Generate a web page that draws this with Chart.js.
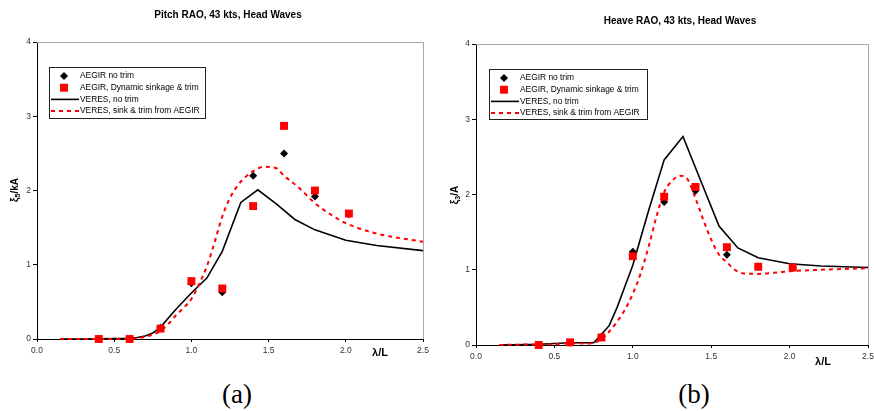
<!DOCTYPE html>
<html>
<head>
<meta charset="utf-8">
<script src="https://cdn.jsdelivr.net/npm/chart.js@4.4.1/dist/chart.umd.min.js"></script>
<style>
  body { margin: 0; background: #fff; width: 874px; height: 411px; position: relative; overflow: hidden; }
  canvas { position: absolute; top: 0; }
  #pitch { left: 0; }
  #heave { left: 440px; }
  .cap { position: absolute; font-family: "Liberation Serif", "Times New Roman", serif; font-size: 27px; line-height: 30px; color: #000; transform: translateX(-50%); }
</style>
</head>
<body>
<canvas id="pitch" width="440" height="370"></canvas>
<canvas id="heave" width="444" height="370"></canvas>
<div class="cap" style="left:237px; top:379px">(a)</div>
<div class="cap" style="left:694px; top:379px">(b)</div>

<script>
// series names (same four in both plots)
const seriesNames = ["AEGIR no trim", "AEGIR, Dynamic sinkage & trim", "VERES, no trim", "VERES, sink & trim from AEGIR"];
const xTicks = [0, 0.5, 1.0, 1.5, 2.0, 2.5];
const yTicks = [0, 1, 2, 3, 4];

// pitch RAO
const pitchAegirX = [0.4, 0.6, 0.8, 1.0, 1.2, 1.4, 1.6, 1.8, 2.02];
const pitchAegirNoTrim = [0, 0, 0.15, 0.75, 0.63, 2.2, 2.5, 1.92, 1.68];
const pitchAegirSinkTrim = [0, 0, 0.14, 0.78, 0.68, 1.79, 2.87, 2.0, 1.69];
const pitchVeresNoTrimX = [0.15, 0.3, 0.5, 0.6, 0.65, 0.7, 0.75, 0.8, 0.9, 1.0, 1.1, 1.2, 1.32, 1.43, 1.55, 1.67, 1.8, 2.0, 2.2, 2.5];
const pitchVeresNoTrim = [0, 0, 0.005, 0.01, 0.02, 0.04, 0.08, 0.16, 0.4, 0.62, 0.82, 1.18, 1.84, 2.01, 1.82, 1.61, 1.47, 1.33, 1.26, 1.19];
const pitchVeresSinkTrimX = [0.15, 0.4, 0.6, 0.65, 0.7, 0.75, 0.8, 0.85, 0.9, 0.95, 1.0, 1.05, 1.1, 1.15, 1.2, 1.25, 1.3, 1.35, 1.4, 1.47, 1.55, 1.6, 1.7, 1.8, 1.9, 2.0, 2.2, 2.5];
const pitchVeresSinkTrim = [0, 0, 0.005, 0.01, 0.03, 0.06, 0.11, 0.2, 0.32, 0.42, 0.54, 0.74, 0.98, 1.3, 1.65, 1.9, 2.07, 2.18, 2.26, 2.32, 2.3, 2.2, 2.03, 1.83, 1.68, 1.56, 1.42, 1.31];

// heave RAO
const heaveAegirX = [0.4, 0.6, 0.8, 1.0, 1.2, 1.4, 1.6, 1.8, 2.02];
const heaveAegirNoTrim = [0, 0.03, 0.11, 1.24, 1.9, 2.05, 1.2, 1.04, 1.03];
const heaveAegirSinkTrim = [0, 0.035, 0.1, 1.18, 1.97, 2.1, 1.3, 1.04, 1.03];
const heaveVeresNoTrimX = [0.15, 0.4, 0.5, 0.6, 0.75, 0.8, 0.85, 0.9, 0.95, 1.0, 1.1, 1.2, 1.32, 1.43, 1.55, 1.67, 1.8, 2.0, 2.2, 2.5];
const heaveVeresNoTrim = [0, 0.01, 0.02, 0.03, 0.03, 0.14, 0.26, 0.5, 0.78, 1.06, 1.78, 2.46, 2.77, 2.2, 1.58, 1.29, 1.16, 1.08, 1.05, 1.03];
const heaveVeresSinkTrimX = [0.15, 0.3, 0.5, 0.6, 0.7, 0.75, 0.8, 0.85, 0.9, 0.95, 1.0, 1.05, 1.1, 1.15, 1.2, 1.25, 1.3, 1.35, 1.4, 1.45, 1.5, 1.55, 1.6, 1.65, 1.7, 1.8, 1.9, 2.0, 2.2, 2.5];
const heaveVeresSinkTrim = [0, 0.005, 0.01, 0.025, 0.02, 0.03, 0.08, 0.18, 0.31, 0.47, 0.68, 0.95, 1.3, 1.7, 2.03, 2.18, 2.25, 2.2, 1.95, 1.66, 1.4, 1.2, 1.1, 1.0, 0.955, 0.945, 0.96, 0.98, 1.0, 1.02];

const FONT = '"Liberation Sans", Arial, sans-serif';

function zip(xs, ys) {
  return xs.map((x, i) => ({ x: x, y: ys[i] }));
}

// square and diamond markers, also used for legend samples
function marker(ctx, style, x, y, r, color) {
  ctx.fillStyle = color;
  ctx.beginPath();
  if (style === 'rect') {
    const h = r * Math.SQRT1_2;
    ctx.rect(x - h, y - h, 2 * h, 2 * h);
  } else {
    ctx.moveTo(x, y - r); ctx.lineTo(x + r, y); ctx.lineTo(x, y + r); ctx.lineTo(x - r, y);
    ctx.closePath();
  }
  ctx.fill();
}

const decor = {
  id: 'decor',
  beforeDatasetsDraw(chart) {
    const { ctx, chartArea: a } = chart;
    ctx.save();
    ctx.strokeStyle = '#a8a8a8';
    ctx.lineWidth = 1;
    ctx.beginPath();
    ctx.moveTo(a.left, Math.round(a.top) + 0.5);
    ctx.lineTo(Math.round(a.right) + 0.5, Math.round(a.top) + 0.5);
    ctx.lineTo(Math.round(a.right) + 0.5, a.bottom);
    ctx.stroke();
    ctx.restore();
  },
  afterDraw(chart, args, o) {
    const ctx = chart.ctx;
    ctx.save();
    ctx.fillStyle = '#000';
    ctx.textBaseline = 'middle';

    // title
    ctx.font = 'bold 10px ' + FONT;
    ctx.textAlign = 'center';
    ctx.fillText(o.title, o.titleX, o.titleY);

    // x axis name
    ctx.font = 'bold 11px ' + FONT;
    ctx.fillText('λ/L', o.xNameX, o.xNameY);

    // y axis name, rotated, with subscript
    ctx.save();
    ctx.translate(o.yNameX, o.yNameY);
    ctx.rotate(-Math.PI / 2);
    ctx.textAlign = 'left';
    ctx.font = 'bold 10px ' + FONT;
    const w1 = ctx.measureText('ξ').width;
    const w3 = ctx.measureText(o.yNameRest).width;
    ctx.font = 'bold 7px ' + FONT;
    const w2 = ctx.measureText(o.yNameSub).width;
    let cx = -(w1 + w2 + w3) / 2;
    ctx.font = 'bold 10px ' + FONT;
    ctx.fillText('ξ', cx, 0);
    cx += w1;
    ctx.font = 'bold 7px ' + FONT;
    ctx.fillText(o.yNameSub, cx, 3);
    cx += w2;
    ctx.font = 'bold 10px ' + FONT;
    ctx.fillText(o.yNameRest, cx, 0);
    ctx.restore();

    // legend box
    const b = o.legend;
    ctx.strokeStyle = '#222';
    ctx.lineWidth = 1;
    ctx.strokeRect(b.x + 0.5, b.y + 0.5, b.w, b.h);
    ctx.font = '8.4px ' + FONT;
    ctx.textAlign = 'left';
    chart.data.datasets.forEach((ds, i) => {
      const ry = b.y + 9 + i * 11.7;
      if (ds.showLine) {
        ctx.save();
        ctx.strokeStyle = ds.borderColor;
        ctx.lineWidth = ds.borderWidth;
        ctx.setLineDash(ds.borderDash || []);
        ctx.beginPath();
        ctx.moveTo(b.x + 2, ry);
        ctx.lineTo(b.x + 30, ry);
        ctx.stroke();
        ctx.restore();
      } else {
        marker(ctx, ds.pointStyle, b.x + 15, ry, ds.pointRadius, ds.backgroundColor);
      }
      ctx.fillStyle = '#000';
      ctx.fillText(ds.label, b.x + 31, ry);
    });
    ctx.restore();
  }
};

function makeChart(id, d, lay, deco) {
  return new Chart(document.getElementById(id), {
    type: 'scatter',
    data: {
      datasets: [
        { label: seriesNames[0], data: zip(d.ax, d.a1), pointStyle: 'rectRot', pointRadius: 4, pointBorderWidth: 0,
          backgroundColor: '#000', borderColor: '#000', order: 1, clip: false },
        { label: seriesNames[1], data: zip(d.ax, d.a2), pointStyle: 'rect', pointRadius: 5.6, pointBorderWidth: 0,
          backgroundColor: '#ff0000', borderColor: '#ff0000', order: 0, clip: false },
        { label: seriesNames[2], data: zip(d.v1x, d.v1), showLine: true, pointRadius: 0, borderColor: '#000',
          backgroundColor: '#000', borderWidth: 1.6, order: 3, clip: false },
        { label: seriesNames[3], data: zip(d.v2x, d.v2), showLine: true, pointRadius: 0, borderColor: '#ff0000',
          backgroundColor: '#ff0000', borderWidth: 2, borderDash: [4, 4], cubicInterpolationMode: 'monotone',
          order: 2, clip: false }
      ]
    },
    options: {
      responsive: false,
      animation: false,
      events: [],
      layout: { padding: { left: 0, right: lay.padRight, top: lay.top, bottom: 0 } },
      plugins: { legend: { display: false }, tooltip: { enabled: false }, decor: deco },
      scales: {
        x: {
          type: 'linear', min: 0, max: 2.5,
          afterBuildTicks: s => { s.ticks = xTicks.map(v => ({ value: v })); },
          afterFit: s => { s.height = lay.xHeight; },
          border: { color: '#000', width: 1 },
          grid: { drawOnChartArea: false, drawTicks: true, tickLength: 3, color: '#000' },
          ticks: { autoSkip: false, maxRotation: 0, padding: 4, color: '#333',
                   font: { family: FONT, size: 8.5 }, callback: v => v.toFixed(1) }
        },
        y: {
          type: 'linear', min: 0, max: 4,
          afterBuildTicks: s => { s.ticks = yTicks.map(v => ({ value: v })); },
          afterFit: s => { s.width = lay.yWidth; },
          border: { color: '#000', width: 1 },
          grid: { drawOnChartArea: false, drawTicks: true, tickLength: 4, color: '#000' },
          ticks: { padding: 2, color: '#333', font: { family: FONT, size: 8.5 } }
        }
      }
    },
    plugins: [decor]
  });
}

makeChart('pitch',
  { ax: pitchAegirX, a1: pitchAegirNoTrim, a2: pitchAegirSinkTrim,
    v1x: pitchVeresNoTrimX, v1: pitchVeresNoTrim, v2x: pitchVeresSinkTrimX, v2: pitchVeresSinkTrim },
  { padRight: 17, top: 42, xHeight: 31, yWidth: 37 },
  { title: 'Pitch RAO, 43 kts, Head Waves', titleX: 228, titleY: 15,
    xNameX: 380, xNameY: 353, yNameX: 15, yNameY: 190, yNameSub: '5', yNameRest: '/kA',
    legend: { x: 49, y: 67, w: 156, h: 51 } });

makeChart('heave',
  { ax: heaveAegirX, a1: heaveAegirNoTrim, a2: heaveAegirSinkTrim,
    v1x: heaveVeresNoTrimX, v1: heaveVeresNoTrim, v2x: heaveVeresSinkTrimX, v2: heaveVeresSinkTrim },
  { padRight: 16, top: 44, xHeight: 25, yWidth: 36 },
  { title: 'Heave RAO, 43 kts, Head Waves', titleX: 240, titleY: 21,
    xNameX: 383, xNameY: 362, yNameX: 15, yNameY: 195, yNameSub: '3', yNameRest: '/A',
    legend: { x: 49, y: 69, w: 158, h: 50 } });
</script>
</body>
</html>
